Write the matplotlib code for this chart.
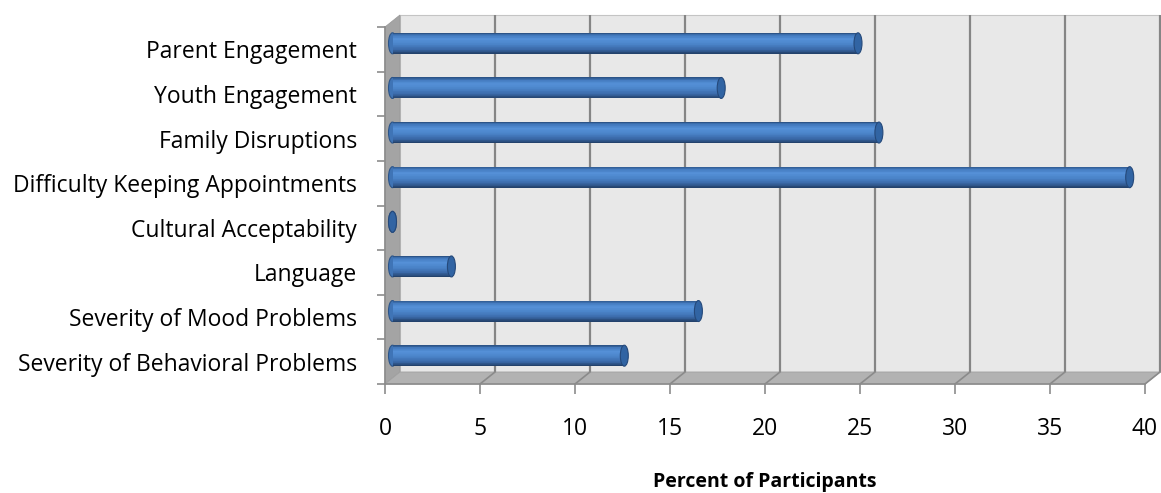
import numpy as np
import matplotlib.pyplot as plt
from matplotlib.patches import Polygon, Ellipse
from matplotlib.colors import LinearSegmentedColormap

plt.rcParams['font.family'] = ['Open Sans', 'DejaVu Sans']

categories = ["Severity of Behavioral Problems", "Severity of Mood Problems", "Language",
              "Cultural Acceptability", "Difficulty Keeping Appointments",
              "Family Disruptions", "Youth Engagement", "Parent Engagement"]
percent = [12.2, 16.1, 3.1, 0.0, 38.8, 25.6, 17.3, 24.5]
x_ticks = [0, 5, 10, 15, 20, 25, 30, 35, 40]

W, H = 1161, 493
fig = plt.figure(figsize=(W / 100, H / 100), dpi=100)
ax = fig.add_axes([385 / W, 109 / H, 760 / W, 357 / H])
ax.set_xlim(0, 40)
ax.set_ylim(-0.5, len(categories) - 0.5)

# box depth in data units: 15 px to the right, 12 px up
dx = 40 * 15 / 760
dy = len(categories) * 12 / 357
y0, y1 = -0.5, len(categories) - 0.5
x1 = 40

# walls
ax.add_patch(Polygon([(dx, y0 + dy), (x1 + dx, y0 + dy), (x1 + dx, y1 + dy), (dx, y1 + dy)],
                     closed=True, fc="#e8e8e8", ec="#c4c4c4", lw=0.8, zorder=0, clip_on=False))
ax.add_patch(Polygon([(0, y0), (0, y1), (dx, y1 + dy), (dx, y0 + dy)],
                     closed=True, fc="#a4a4a4", ec="#9a9a9a", lw=0.6, zorder=1, clip_on=False))
ax.add_patch(Polygon([(0, y0), (x1, y0), (x1 + dx, y0 + dy), (dx, y0 + dy)],
                     closed=True, fc="#b2b2b2", ec="#a0a0a0", lw=0.6, zorder=1, clip_on=False))

# gridlines on back wall and floor
for v in x_ticks[1:]:
    ax.plot([v + dx, v + dx], [y0 + dy, y1 + dy], color="#858585", lw=1.6, zorder=1,
            clip_on=False, solid_capstyle="butt")
    ax.plot([v, v + dx], [y0, y0 + dy], color="#8a8a8a", lw=1.2, zorder=1, clip_on=False)

# cylinders
shade = LinearSegmentedColormap.from_list(
    "cyl", [(0.0, "#2c5488"), (0.1, "#4279bd"), (0.3, "#5591d8"), (0.55, "#4a83c8"),
            (0.8, "#3a69a8"), (1.0, "#23426c")])
ypos = np.arange(len(categories)) + dy / 2
thick = 0.47
nstrip = 30
left_x = dx / 2
cap_w = 0.42
for k in range(nstrip):
    off = thick / 2 - (k + 0.5) * thick / nstrip
    ax.barh(ypos + off, percent, left=left_x, height=thick / nstrip * 1.05,
            color=shade(k / (nstrip - 1)), lw=0, zorder=4)
for yc, v in zip(ypos, percent):
    ax.add_patch(Ellipse((left_x, yc), cap_w, thick, fc="#3f74b6", ec="#2c5488",
                         lw=0.8, zorder=3, clip_on=False))
    ax.add_patch(Ellipse((left_x + v, yc), cap_w, thick, fc="#3164a3", ec="#25497a",
                         lw=0.8, zorder=5, clip_on=False))

# axes
for side in ["top", "right"]:
    ax.spines[side].set_visible(False)
for side in ["left", "bottom"]:
    ax.spines[side].set_color("#8c8c8c")
    ax.spines[side].set_linewidth(1.2)
    ax.spines[side].set_zorder(2)
ax.set_facecolor("none")

ax.set_xticks(x_ticks)
ax.set_xticklabels([str(t) for t in x_ticks], fontsize=16.5)
ax.tick_params(axis="x", length=7, width=1.2, color="#8c8c8c", pad=17)

ax.set_yticks(np.arange(len(categories)))
ax.set_yticklabels(categories, fontsize=16.5)
ax.set_yticks(np.arange(len(categories) + 1) - 0.5, minor=True)
ax.tick_params(axis="y", which="major", length=0, pad=20)
ax.tick_params(axis="y", which="minor", length=6, width=1.2, color="#8c8c8c")

ax.set_xlabel("Percent of Participants", fontsize=14, fontweight="bold", labelpad=22)

fig.savefig("out.png", dpi=100, facecolor="white")
